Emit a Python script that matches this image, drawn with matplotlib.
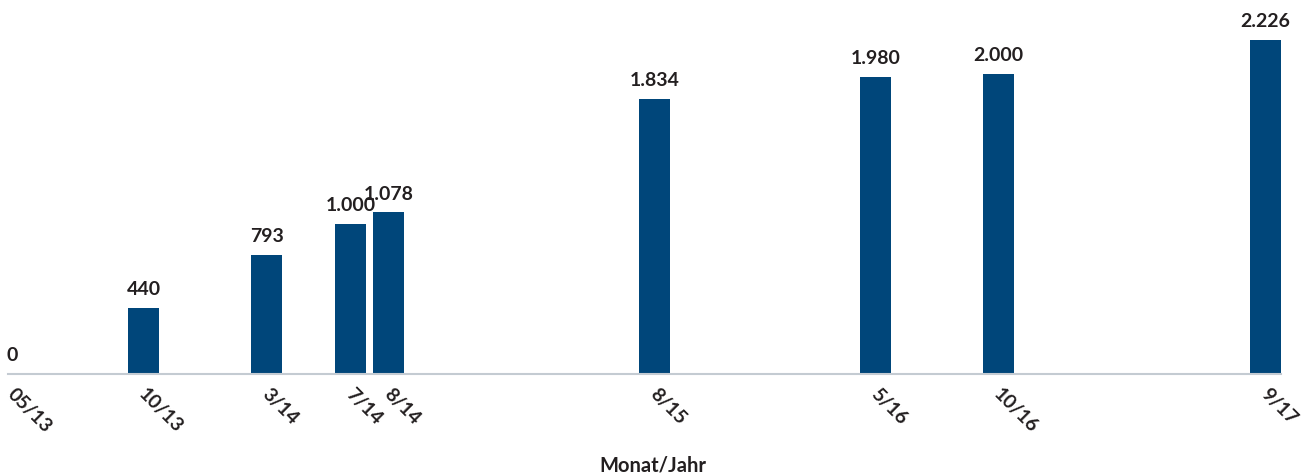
import matplotlib
matplotlib.use("Agg")
import matplotlib.pyplot as plt
from matplotlib.transforms import ScaledTranslation

# Data
labels = ["05/13", "10/13", "3/14", "7/14", "8/14", "8/15", "5/16", "10/16", "9/17"]
values = [0, 440, 793, 1000, 1078, 1834, 1980, 2000, 2226]
# horizontal position of each bar in months after 05/13, as placed in the reference
positions = [-0.35, 5.0, 10.0, 13.42, 14.96, 25.77, 34.76, 39.76, 50.61]

bar_color = "#00467a"
text_color = "#231f20"
font = ["Lato", "DejaVu Sans"]

W, H = 1306, 475
fig = plt.figure(figsize=(W / 100, H / 100), dpi=100)
ax = fig.add_axes([8 / W, 101 / H, 1273 / W, 374 / H])

ax.bar(positions, values, width=1.26, color=bar_color, zorder=2)

ax.set_xlim(-0.51, 51.24)
ax.set_ylim(0, 2493)

for x, v in zip(positions, values):
    txt = f"{v:,}".replace(",", ".")
    ax.annotate(txt, (x, v), xytext=(0, 7), textcoords="offset points",
                ha="center", va="bottom", fontsize=14, fontweight="bold",
                color=text_color, family=font, annotation_clip=False)

ax.set_xticks(positions)
ax.set_xticklabels(labels, rotation=-45, ha="left", va="top",
                   rotation_mode="anchor", fontsize=14, fontweight="bold",
                   color=text_color, family=font)
ax.tick_params(axis="x", length=0, pad=8)
shift = ScaledTranslation(4 / 100, 0, fig.dpi_scale_trans)
for lbl in ax.get_xticklabels():
    lbl.set_transform(lbl.get_transform() + shift)
ax.set_yticks([])

for s in ["top", "right", "left"]:
    ax.spines[s].set_visible(False)
ax.spines["bottom"].set_color("#c4cbd2")
ax.spines["bottom"].set_linewidth(1.5)

fig.text(0.5, (H - 465) / H, "Monat/Jahr", ha="center", va="center",
         fontsize=14.5, fontweight="bold", color=text_color, family=font)

fig.savefig("out.png", dpi=100)
